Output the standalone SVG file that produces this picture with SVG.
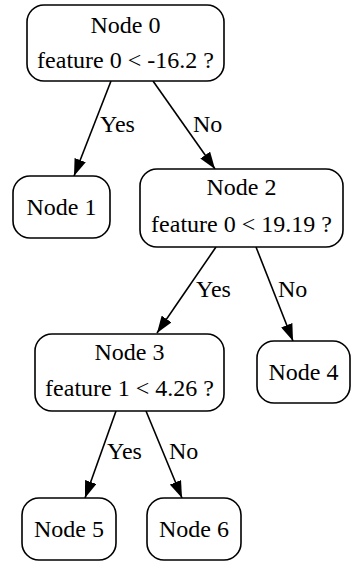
<svg xmlns="http://www.w3.org/2000/svg" width="351" height="563" viewBox="0 0 351 563" font-family="'Liberation Serif', 'DejaVu Serif', 'Times New Roman', serif">
<defs>
<style>
.n rect{fill:#fff;stroke:#000;stroke-width:1.6}
text{font-family:"Liberation Serif","DejaVu Serif","Times New Roman",serif;font-size:24px;fill:#000}
.c{text-anchor:middle}
.e line{stroke:#000;stroke-width:1.6}
</style>
<marker id="ah" viewBox="0 0 17 12" refX="17" refY="6" markerWidth="17" markerHeight="12" markerUnits="userSpaceOnUse" orient="auto">
<path d="M0,0 L17,6 L0,12 z" fill="#000"/>
</marker>
</defs>
<rect width="351" height="563" fill="#fff"/>
<g id="edges" class="e">
<line x1="111" y1="81" x2="74" y2="176" marker-end="url(#ah)"/>
<line x1="153" y1="81" x2="215" y2="169" marker-end="url(#ah)"/>
<line x1="216" y1="247" x2="157" y2="333" marker-end="url(#ah)"/>
<line x1="256" y1="247" x2="293" y2="341" marker-end="url(#ah)"/>
<line x1="116" y1="411" x2="85" y2="498" marker-end="url(#ah)"/>
<line x1="146" y1="411" x2="182" y2="498" marker-end="url(#ah)"/>
<text x="100" y="132">Yes</text>
<text x="193" y="132">No</text>
<text x="196" y="297">Yes</text>
<text x="278" y="297">No</text>
<text x="107" y="459">Yes</text>
<text x="169" y="459">No</text>
</g>
<g id="node0" class="n">
<rect x="27" y="5" width="197" height="76" rx="17"/>
<text class="c" x="125.5" y="33">Node 0</text>
<text class="c" x="125.5" y="68">feature 0 &lt; -16.2 ?</text>
</g>
<g id="node1" class="n">
<rect x="13" y="176" width="97" height="62" rx="17"/>
<text class="c" x="61.5" y="215">Node 1</text>
</g>
<g id="node2" class="n">
<rect x="140" y="169" width="203" height="78" rx="17"/>
<text class="c" x="241.5" y="195">Node 2</text>
<text class="c" x="241.5" y="232">feature 0 &lt; 19.19 ?</text>
</g>
<g id="node3" class="n">
<rect x="35" y="334" width="189" height="77" rx="17"/>
<text class="c" x="129.5" y="360">Node 3</text>
<text class="c" x="129.5" y="396">feature 1 &lt; 4.26 ?</text>
</g>
<g id="node4" class="n">
<rect x="257" y="341" width="93" height="62" rx="17"/>
<text class="c" x="303.5" y="380">Node 4</text>
</g>
<g id="node5" class="n">
<rect x="22" y="498" width="94" height="62" rx="17"/>
<text class="c" x="69" y="537">Node 5</text>
</g>
<g id="node6" class="n">
<rect x="147" y="498" width="94" height="62" rx="17"/>
<text class="c" x="194" y="537">Node 6</text>
</g>
</svg>
